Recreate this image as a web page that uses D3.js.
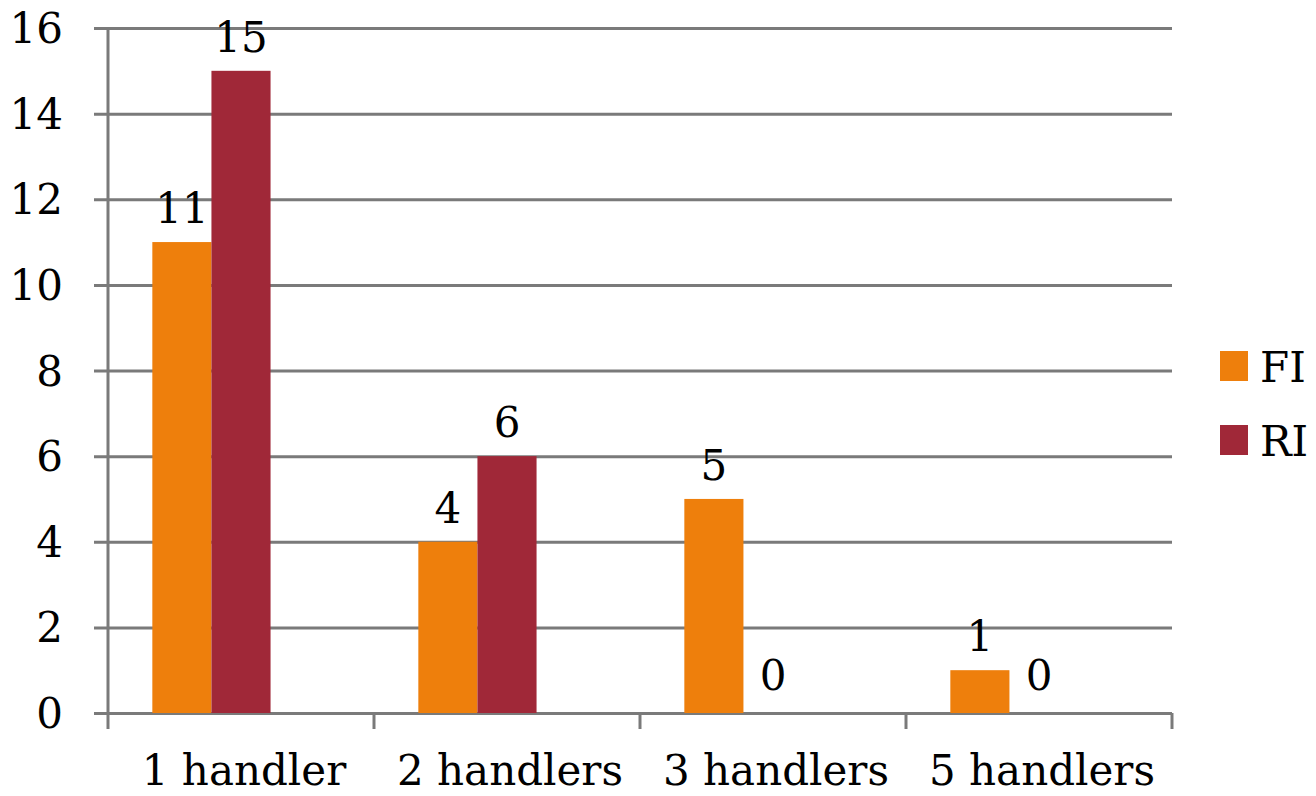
<!DOCTYPE html>
<html>
<head>
<meta charset="utf-8">
<script src="https://cdn.jsdelivr.net/npm/d3@7"></script>
<style>
  html, body { margin: 0; padding: 0; background: #fff; }
  svg { display: block; }
  text { font-family: "DejaVu Serif", "Liberation Serif", serif; fill: #000; }
</style>
</head>
<body>
<svg id="chart" width="1316" height="796"></svg>
<script>
// Handler counts per group, split by series
const categories = ["1 handler", "2 handlers", "3 handlers", "5 handlers"];
const seriesNames = ["FI", "RI"];
const fiValues = [11, 4, 5, 1];
const riValues = [15, 6, 0, 0];
const yTicks = [0, 2, 4, 6, 8, 10, 12, 14, 16];
const colors = ["#EE7F0C", "#A02838"];

const svg = d3.select("#chart");
const plot = { left: 108, right: 1172, top: 28, bottom: 713 };
const fontSize = 42;

const x0 = d3.scaleBand().domain(categories).range([plot.left, plot.right]).padding(0);
// Three slots per group (last one left empty), 150% gap split around them
const x1 = d3.scaleBand().domain([...seriesNames, "_spare"]).range([0, x0.bandwidth()])
  .paddingInner(0).paddingOuter(0.75);
const y = d3.scaleLinear().domain([0, 16]).range([plot.bottom, plot.top]);

const gridColor = "#7a7a7a";

// Horizontal gridlines with short ticks to the left of the axis
svg.append("g")
  .attr("transform", `translate(${plot.left},0)`)
  .call(d3.axisLeft(y).tickValues(yTicks).tickSize(-(plot.right - plot.left)).tickFormat(""))
  .call(g => g.select(".domain").remove())
  .call(g => g.selectAll(".tick line").attr("stroke", gridColor).attr("stroke-width", 3).attr("x1", -14));

// Y tick labels
svg.append("g").selectAll("text")
  .data(yTicks).join("text")
  .attr("x", 63)
  .attr("y", d => y(d))
  .attr("dy", "0.36em")
  .attr("text-anchor", "end")
  .attr("font-size", fontSize)
  .text(d => d);

// Vertical axis line
svg.append("line")
  .attr("x1", plot.left).attr("x2", plot.left)
  .attr("y1", y(16)).attr("y2", plot.bottom + 16)
  .attr("stroke", gridColor).attr("stroke-width", 3);

// Category separators below the baseline
const sepX = categories.map(c => x0(c) + x0.bandwidth());
svg.append("g").selectAll("line")
  .data(sepX).join("line")
  .attr("x1", d => d).attr("x2", d => d)
  .attr("y1", plot.bottom).attr("y2", plot.bottom + 16)
  .attr("stroke", gridColor).attr("stroke-width", 3);

// Bars
const rows = categories.map((c, i) => ({ cat: c, vals: [fiValues[i], riValues[i]] }));
const groups = svg.append("g").selectAll("g")
  .data(rows).join("g")
  .attr("transform", d => `translate(${x0(d.cat)},0)`);

groups.selectAll("rect")
  .data(d => d.vals.map((v, j) => ({ key: seriesNames[j], v, j })))
  .join("rect")
  .attr("x", d => x1(d.key))
  .attr("y", d => y(d.v))
  .attr("width", x1.bandwidth())
  .attr("height", d => y(0) - y(d.v))
  .attr("fill", d => colors[d.j]);

// Value labels above bars
groups.selectAll("text")
  .data(d => d.vals.map((v, j) => ({ key: seriesNames[j], v, j })))
  .join("text")
  .attr("x", d => x1(d.key) + x1.bandwidth() / 2)
  .attr("y", d => y(d.v) - (d.v === 0 ? 23 : 19))
  .attr("text-anchor", "middle")
  .attr("font-size", fontSize)
  .text(d => d.v);

// Category labels
svg.append("g").selectAll("text")
  .data(categories).join("text")
  .attr("x", d => x0(d) + x0.bandwidth() / 2 + 3)
  .attr("y", 785)
  .attr("text-anchor", "middle")
  .attr("font-size", fontSize)
  .text(d => d);

// Legend
const legend = svg.append("g").selectAll("g")
  .data(seriesNames).join("g")
  .attr("transform", (d, i) => `translate(1220,${351 + i * 74})`);
legend.append("rect")
  .attr("width", 28).attr("height", 30)
  .attr("fill", (d, i) => colors[i]);
legend.append("text")
  .attr("x", 40).attr("y", 31)
  .attr("font-size", fontSize)
  .text(d => d);
</script>
</body>
</html>
